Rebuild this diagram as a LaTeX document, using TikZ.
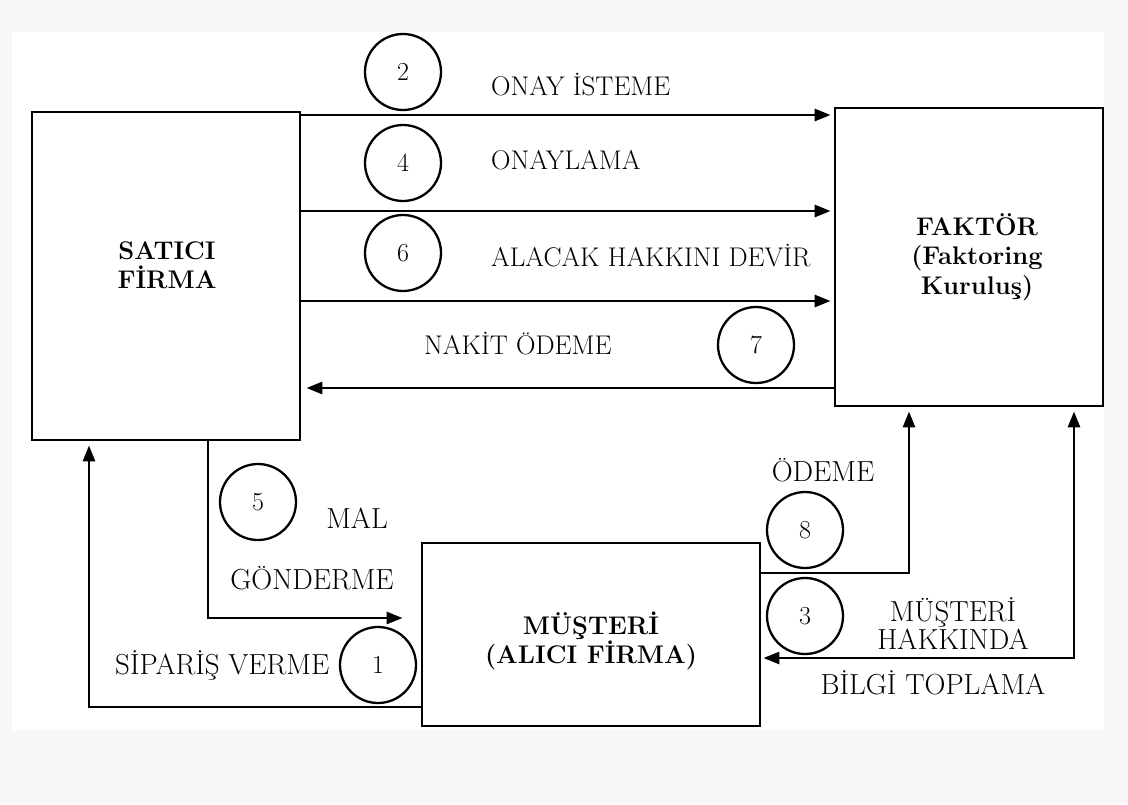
\documentclass[tikz,border=0pt]{standalone}
\usepackage{fontspec}
\usetikzlibrary{arrows.meta}
\begin{document}
\begin{tikzpicture}[x=1pt,y=-1pt,
  box/.style={draw,line width=2.8pt,fill=white,inner sep=0pt},
  btxt/.style={align=center,font=\fontsize{25.5}{29.5}\selectfont\bfseries,inner sep=0pt},
  num/.style={draw,circle,line width=2.3pt,minimum size=76pt,inner sep=0pt,font=\fontsize{26}{28}\selectfont},
  lbl/.style={font=\fontsize{27}{28}\selectfont,inner sep=0pt,align=center},
  lblb/.style={font=\fontsize{29}{28}\selectfont,inner sep=0pt,align=center},
  arr/.style={line width=2.8pt,-{Triangle[length=16pt,width=12pt]}},
  darr/.style={line width=2.8pt,{Triangle[length=16pt,width=12pt]}-{Triangle[length=16pt,width=12pt]}}]
% background
\fill[black!3] (0,0) rectangle (1128,804);
\fill[white] (12,32) rectangle (1104,730);
\useasboundingbox (0,0) rectangle (1128,804);
% boxes
\node[box,minimum width=268pt,minimum height=328pt] (sat) at (166,276) {};
\node[btxt] (sattxt) at (167,265) {SATICI\\FİRMA};
\node[box,minimum width=268pt,minimum height=298pt] (fak) at (969,257) {};
\node[btxt] (faktxt) at (977,257) {FAKTÖR\\(Faktoring\\Kuruluş)};
\node[box,minimum width=338pt,minimum height=183pt] (mus) at (591,634.5) {};
\node[btxt] (mustxt) at (591,641) {MÜŞTERİ\\(ALICI FİRMA)};
% circles
\node[num] (c2) at (403,72) {2};
\node[num] (c4) at (403,163) {4};
\node[num] (c6) at (403,253) {6};
\node[num] (c7) at (756,345) {7};
\node[num] (c5) at (258,502) {5};
\node[num] (c8) at (805,530) {8};
\node[num] (c3) at (805,616) {3};
\node[num] (c1) at (378,665) {1};
% labels
\node[lbl,anchor=west] (l2) at (491,85) {ONAY İSTEME};
\node[lbl,anchor=west] (l4) at (491,160) {ONAYLAMA};
\node[lbl,anchor=west] (l6) at (491,256) {ALACAK HAKKINI DEVİR};
\node[lbl,anchor=west] (l7) at (424,344) {NAKİT ÖDEME};
\node[lblb] (l5a) at (357,518) {MAL};
\node[lblb] (l5b) at (312,578) {GÖNDERME};
\node[lblb,anchor=west] (l1) at (115,665) {SİPARİŞ VERME};
\node[lblb] (l8) at (823,470) {ÖDEME};
\node[lblb] (l3a) at (953,624) {MÜŞTERİ\\HAKKINDA};
\node[lblb] (l3b) at (933,683) {BİLGİ TOPLAMA};
% connectors
\coordinate (p5) at (208,618);
\coordinate (p1) at (89,707);
\coordinate (p8) at (909,573);
\coordinate (p3) at (1074,658);
\draw[arr,shorten >=3pt] (sat.east |- 0,115) -- (fak.west |- 0,115);
\draw[arr,shorten >=3pt] (sat.east |- 0,211) -- (fak.west |- 0,211);
\draw[arr,shorten >=3pt] (sat.east |- 0,301) -- (fak.west |- 0,301);
\draw[arr,shorten >=5pt] (fak.west |- 0,388) -- (sat.east |- 0,388);
\draw[arr,shorten >=18pt] (sat.south -| p5) -- (p5) -- (mus.west |- p5);
\draw[arr,shorten >=4pt] (mus.west |- p1) -- (p1) -- (sat.south -| p1);
\draw[arr,shorten >=4pt] (mus.east |- p8) -- (p8) -- (fak.south -| p8);
\draw[darr,shorten >=4pt,shorten <=2pt] (mus.east |- p3) -- (p3) -- (fak.south -| p3);
\end{tikzpicture}
\end{document}
